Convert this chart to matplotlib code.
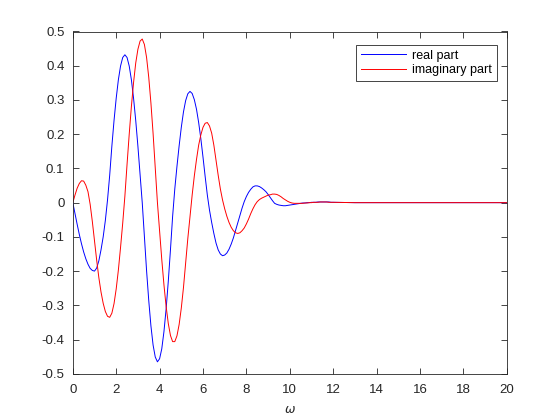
import numpy as np
import matplotlib
matplotlib.use("Agg")
import matplotlib.pyplot as plt
from matplotlib.ticker import FormatStrFormatter

# omega grid: 0..12 in steps of 0.1, then a flat tail out to 20
omega = list(np.round(np.arange(0, 12.05, 0.1), 1)) + [13, 14, 15, 16, 17, 18, 19, 20]

real_part = [
    0.000, -0.032, -0.063, -0.093, -0.120, -0.144, -0.164, -0.180, -0.192, -0.198,
    -0.200, -0.191, -0.170, -0.138, -0.100, -0.052, 0.008, 0.080, 0.165, 0.240,
    0.305, 0.359, 0.399, 0.424, 0.432, 0.424, 0.399, 0.359, 0.305, 0.240,
    0.165, 0.084, 0.000, -0.102, -0.199, -0.286, -0.360, -0.416, -0.451, -0.465,
    -0.456, -0.427, -0.377, -0.311, -0.230, -0.138, -0.040, 0.040, 0.106, 0.166,
    0.220, 0.265, 0.298, 0.318, 0.325, 0.319, 0.301, 0.273, 0.234, 0.187,
    0.133, 0.076, 0.022, -0.022, -0.058, -0.090, -0.118, -0.138, -0.150, -0.155,
    -0.153, -0.147, -0.136, -0.121, -0.103, -0.081, -0.058, -0.036, -0.016, 0.003,
    0.018, 0.030, 0.039, 0.046, 0.049, 0.049, 0.047, 0.043, 0.038, 0.032,
    0.024, 0.015, 0.006, -0.002, -0.005, -0.007, -0.008, -0.009, -0.009, -0.008,
    -0.007, -0.006, -0.005, -0.004, -0.003, -0.002, -0.001, -0.001, 0.000, 0.000,
    0.001, 0.001, 0.001, 0.002, 0.002, 0.002, 0.002, 0.002, 0.002, 0.001,
    0.001,
    0.0, 0.0, 0.0, 0.0, 0.0, 0.0, 0.0, 0.0,
]

imag_part = [
    0.000, 0.022, 0.042, 0.056, 0.064, 0.063, 0.051, 0.032, -0.005, -0.055,
    -0.112, -0.168, -0.219, -0.261, -0.294, -0.318, -0.332, -0.335, -0.323, -0.295,
    -0.252, -0.197, -0.131, -0.060, 0.019, 0.112, 0.200, 0.281, 0.351, 0.408,
    0.448, 0.472, 0.478, 0.462, 0.424, 0.366, 0.291, 0.202, 0.103, 0.000,
    -0.085, -0.166, -0.240, -0.303, -0.353, -0.388, -0.406, -0.406, -0.389, -0.356,
    -0.308, -0.248, -0.175, -0.105, -0.040, 0.022, 0.078, 0.126, 0.168, 0.198,
    0.220, 0.232, 0.234, 0.224, 0.203, 0.168, 0.124, 0.080, 0.040, 0.008,
    -0.018, -0.040, -0.058, -0.072, -0.082, -0.088, -0.090, -0.088, -0.082, -0.074,
    -0.062, -0.048, -0.032, -0.018, -0.006, 0.003, 0.009, 0.013, 0.016, 0.019,
    0.022, 0.023, 0.025, 0.025, 0.024, 0.021, 0.017, 0.012, 0.008, 0.004,
    0.001, -0.001, -0.002, -0.002, -0.002, -0.002, -0.002, -0.001, -0.001, 0.000,
    0.000, 0.001, 0.001, 0.001, 0.002, 0.002, 0.002, 0.002, 0.001, 0.001,
    0.001,
    0.0, 0.0, 0.0, 0.0, 0.0, 0.0, 0.0, 0.0,
]

labels = ["real part", "imaginary part"]
xticks = list(range(0, 21, 2))
yticks = [-0.5, -0.4, -0.3, -0.2, -0.1, 0, 0.1, 0.2, 0.3, 0.4, 0.5]


def main():
    plt.rcParams["font.family"] = ["Liberation Sans", "DejaVu Sans"]
    plt.rcParams["axes.unicode_minus"] = False
    dark = (0.15, 0.15, 0.15)

    fig = plt.figure(figsize=(5.6, 4.2), dpi=100)
    ax = fig.add_axes([0.13, 0.11, 0.775, 0.815])

    ax.plot(omega, real_part, color="blue", lw=0.7, label=labels[0])
    ax.plot(omega, imag_part, color="red", lw=0.7, label=labels[1])

    ax.set_xlim(0, 20)
    ax.set_ylim(-0.5, 0.5)
    ax.set_xticks(xticks)
    ax.set_yticks(yticks)
    ax.yaxis.set_major_formatter(FormatStrFormatter("%g"))
    ax.tick_params(direction="in", top=True, right=True, length=4,
                   width=0.6, colors=dark, labelsize=9.5)
    ax.tick_params(axis="x", pad=7)
    ax.tick_params(axis="y", pad=6)
    for s in ax.spines.values():
        s.set_color(dark)
        s.set_linewidth(0.6)

    ax.set_xlabel(r"$\omega$", fontsize=9, color=dark, labelpad=6)

    leg = ax.legend(loc="upper right", bbox_to_anchor=(0.977, 0.962),
                    fancybox=False, edgecolor=dark, framealpha=1,
                    fontsize=9, handlelength=3.6, borderaxespad=0,
                    borderpad=0.4, labelspacing=0.2, handletextpad=0.5)
    leg.get_frame().set_linewidth(0.6)

    fig.savefig("out.png", dpi=100)


if __name__ == "__main__":
    main()
